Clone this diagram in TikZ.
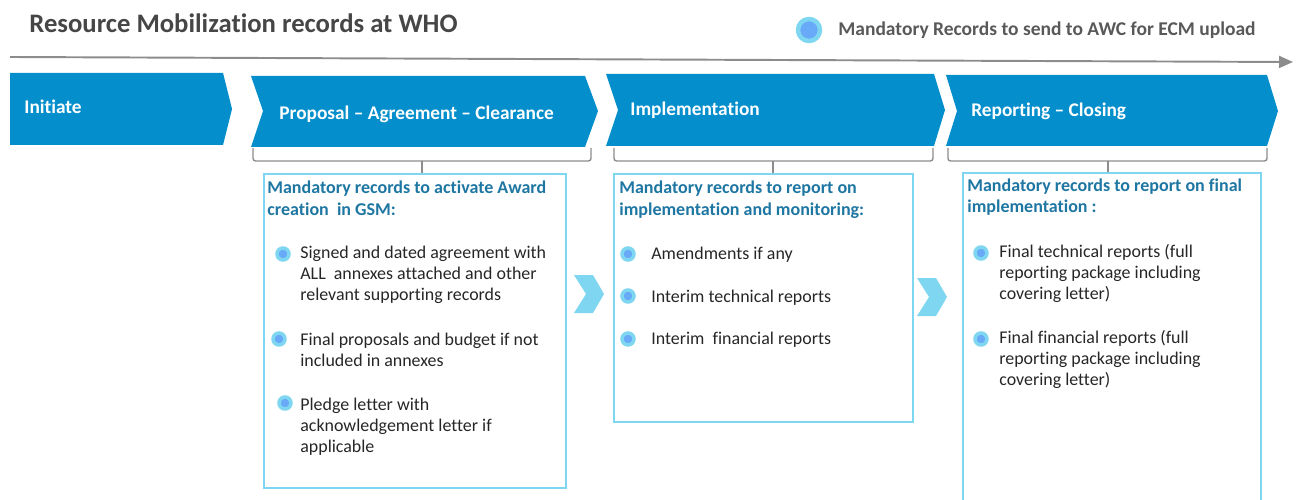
\documentclass[tikz,border=0pt]{standalone}
\usepackage{fontspec}
\setmainfont{Carlito}[Ligatures=NoCommon, RawFeature={-liga;-clig}]
\usetikzlibrary{positioning}
\usetikzlibrary{calc}
\usetikzlibrary{arrows.meta}

\definecolor{whoblue}{RGB}{4,142,204}
\definecolor{ringcyan}{RGB}{126,214,240}
\definecolor{dotblue}{RGB}{104,170,248}
\definecolor{headblue}{RGB}{30,118,162}
\definecolor{titlegray}{RGB}{70,70,70}
\definecolor{linegray}{RGB}{140,140,140}

\begin{document}
\begin{tikzpicture}[
    x=0.02cm, y=-0.02cm,
    phase/.style={fill=whoblue},
    phaselabel/.style={anchor=base west, inner sep=0, text=white, font=\bfseries\fontsize{11}{12}\selectfont},
    recbox/.style={draw=ringcyan, line width=1.2pt, anchor=north west, inner sep=0},
    % multi-line nodes: base is the last line
    boxhead/.style={anchor=base west, inner sep=0, align=left, text=headblue, font=\bfseries\fontsize{10.25}{12.4}\selectfont},
    item/.style={anchor=base west, inner sep=0, align=left, text=black!85, font=\fontsize{10.2}{11.9}\selectfont},
    dot/.style={circle, inner sep=0, minimum size=0.24cm, fill=dotblue, draw=ringcyan, line width=0.07cm},
    bracket/.style={draw=linegray, line width=0.8pt, rounded corners=1.5pt},
    nextstep/.style={fill=ringcyan}
]
    \useasboundingbox (0,0) rectangle (1296,500);

    % heading and legend
    \node[anchor=base west, inner sep=0, text=titlegray, font=\bfseries\fontsize{15.2}{17}\selectfont] (title) at (29,33) {Resource Mobilization records at WHO};
    \node[dot, minimum size=0.44cm, line width=0.09cm] (key) at (809,30) {};
    \node[anchor=base west, inner sep=0, text=black!65, font=\bfseries\fontsize{11.1}{12}\selectfont] (keytext) at (838,36) {Mandatory Records to send to AWC for ECM upload};

    % time line
    \coordinate (tl-start) at (10,57);
    \coordinate (tl-end) at (1293,62);
    \draw[linegray, line width=1.1pt, -{Triangle[length=0.28cm, width=0.24cm]}] (tl-start) -- (tl-end);

    % phases
    \fill[phase] (10,73) -- (223,73) -- (232,109) -- (223,145) -- (10,145) -- cycle;
    \fill[phase] (251,76) -- (585,76) -- (598,111) -- (585,147) -- (251,147) -- (263,111) -- cycle;
    \fill[phase] (606,74) -- (934,74) -- (945,110) -- (934,146) -- (606,146) -- (618,110) -- cycle;
    \fill[phase] (946,75) -- (1267,75) -- (1278,111) -- (1267,146) -- (946,146) -- (957,111) -- cycle;

    \node[phaselabel] (init) at (24,114) {Initiate};
    \node[phaselabel] (prop) at (279,120) {Proposal -- Agreement -- Clearance};
    \node[phaselabel] (impl) at (630,116) {Implementation};
    \node[phaselabel] (rep) at (971,117) {Reporting -- Closing};

    % record boxes
    \node[recbox, minimum width=6.04cm, minimum height=6.28cm] (box1) at (263,173) {};
    \node[recbox, minimum width=5.98cm, minimum height=4.96cm] (box2) at (613,173) {};
    \node[recbox, minimum width=5.96cm, minimum height=6.7cm] (box3) at (962,172) {};

    % brackets under the phases
    \coordinate (br1) at (422,161);
    \coordinate (br2) at (773,161);
    \coordinate (br3) at (1108,161);
    \draw[bracket] (253,148) -- (253,161) -- (591,161) -- (591,148);
    \draw[bracket] (614,148) -- (614,161) -- (933,161) -- (933,148);
    \draw[bracket] (948,148) -- (948,161) -- (1267,161) -- (1267,148);
    \foreach \b/\x in {br1/box1, br2/box2, br3/box3} {
        \draw[linegray, line width=0.8pt] (\b) -- (\b |- \x.north);
    }

    % chevrons between the boxes
    \fill[nextstep] (574,275) -- (593,275) -- (604,294) -- (593,313) -- (574,313) -- (586,294) -- cycle;
    \fill[nextstep] (917,278) -- (936,278) -- (947,297) -- (936,316) -- (917,316) -- (929,297) -- cycle;

    % box 1
    \node[boxhead] (h1) at (267,215) {Mandatory records to activate Award\\creation\ \ in GSM:};
    \node[item] (t11) at (300,300) {Signed and dated agreement with\\ALL\ \ annexes attached and other\\relevant supporting records};
    \node[item] (t12) at (300,366) {Final proposals and budget if not\\included in annexes};
    \node[item] (t13) at (300,452) {Pledge letter with\\acknowledgement letter if\\applicable};
    \foreach \n/\p in {d11/{(283,254)}, d12/{(279,339)}, d13/{(285,403)}} {
        \node[dot] (\n) at \p {};
    }

    % box 2
    \node[boxhead] (h2) at (619,215) {Mandatory records to report on\\implementation and monitoring:};
    \node[item] (t21) at (651,259) {Amendments if any};
    \node[item] (t22) at (651,302) {Interim technical reports};
    \node[item] (t23) at (651,344) {Interim\ \ financial reports};
    \foreach \n/\y in {d21/254, d22/296, d23/339} {
        \node[dot] (\n) at (628,\y) {};
    }

    % box 3
    \node[boxhead] (h3) at (967,213) {Mandatory records to report on final\\implementation :};
    \node[item] (t31) at (999,299) {Final technical reports (full\\reporting package including\\covering letter)};
    \node[item] (t32) at (999,385) {Final financial reports (full\\reporting package including\\covering letter)};
    \foreach \n/\y in {d31/253, d32/339} {
        \node[dot] (\n) at (981,\y) {};
    }
\end{tikzpicture}
\end{document}
